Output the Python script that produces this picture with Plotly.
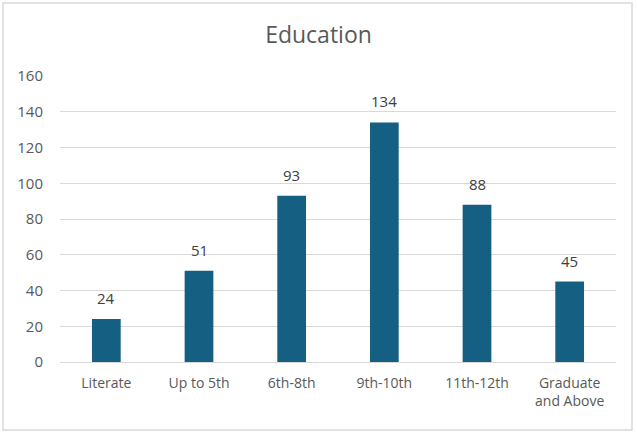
import plotly.graph_objects as go

categories = ["Literate", "Up to 5th", "6th-8th", "9th-10th", "11th-12th", "Graduate<br>and Above"]
counts = [24, 51, 93, 134, 88, 45]
y_ticks = [0, 20, 40, 60, 80, 100, 120, 140, 160]

BAR = "#156082"
TEXT = "#595959"
LABEL = "#404040"
GRID = "#D9D9D9"
FONT = "Open Sans, Lato, sans-serif"

fig = go.Figure(
    go.Bar(
        x=categories,
        y=counts,
        marker=dict(color=BAR, line=dict(width=0)),
        hoverinfo="x+y",
    )
)

# value labels sitting a little above each bar
for cat, v in zip(categories, counts):
    fig.add_annotation(
        x=cat,
        y=v,
        text=str(v),
        showarrow=False,
        yanchor="bottom",
        yshift=9,
        font=dict(size=15, color=LABEL, family=FONT),
    )

fig.update_layout(
    width=637,
    height=433,
    margin=dict(l=60, r=21, t=76, b=71),
    paper_bgcolor="white",
    plot_bgcolor="white",
    bargap=0.69,
    showlegend=False,
    font=dict(family=FONT, color=TEXT, size=14),
    title=dict(
        text="Education",
        x=0.5,
        xanchor="center",
        y=1 - 35 / 433,
        yanchor="middle",
        font=dict(size=23, color=TEXT, family=FONT),
    ),
    xaxis=dict(
        showgrid=False,
        showline=False,
        zeroline=False,
        ticks="",
        ticklabelstandoff=11,
        tickfont=dict(size=14, color=TEXT),
    ),
    yaxis=dict(
        range=[0, 160],
        tickvals=y_ticks,
        showgrid=True,
        gridcolor=GRID,
        gridwidth=1,
        zeroline=True,
        zerolinecolor=GRID,
        zerolinewidth=1,
        showline=False,
        ticks="",
        ticklabelstandoff=16,
        tickfont=dict(size=15, color=TEXT),
    ),
    shapes=[
        dict(
            type="rect",
            xref="paper",
            yref="paper",
            x0=(3 - 60) / 556,
            x1=(632 - 60) / 556,
            y0=(362 - 430) / 286,
            y1=(362 - 3) / 286,
            line=dict(color="#D9D9D9", width=1.5),
            fillcolor="rgba(0,0,0,0)",
            layer="below",
        )
    ],
)

fig.write_html("out.html")
